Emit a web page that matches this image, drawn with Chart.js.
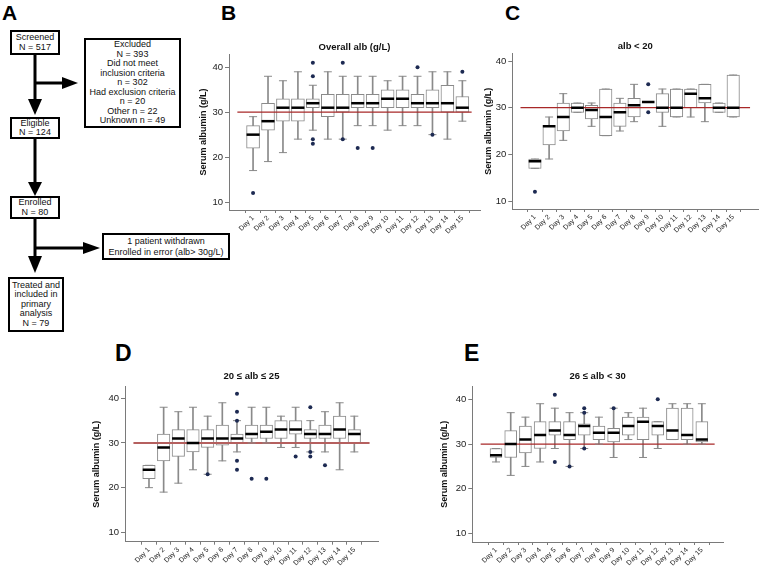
<!DOCTYPE html>
<html><head><meta charset="utf-8">
<script src="https://cdn.jsdelivr.net/npm/chart.js@4.4.1/dist/chart.umd.min.js"></script>
<style>
html,body{margin:0;padding:0;background:#fff;width:767px;height:572px;overflow:hidden;font-family:"Liberation Sans",Arial,Helvetica,sans-serif;}
.box{position:absolute;border:2px solid #000;box-sizing:border-box;display:flex;flex-direction:column;justify-content:center;align-items:center;text-align:center;font-size:9px;line-height:9.5px;color:#111;background:#fff;white-space:nowrap;}
.letter{position:absolute;font-weight:bold;font-size:21px;line-height:1;color:#000;}
canvas{position:absolute;}
svg{position:absolute;left:0;top:0;}
</style></head><body>

<div class="letter" style="left:2px;top:2px;">A</div>
<div class="letter" style="left:221px;top:2px;">B</div>
<div class="letter" style="left:505px;top:2px;">C</div>
<div class="letter" style="left:115px;top:342px;font-size:23px;">D</div>
<div class="letter" style="left:464px;top:342px;font-size:23px;">E</div>

<svg width="240" height="340">
  <g stroke="#000" stroke-width="3" fill="none">
    <line x1="35" y1="55" x2="35" y2="100"/>
    <line x1="35" y1="83" x2="63" y2="83"/>
    <line x1="35" y1="139" x2="35" y2="183"/>
    <line x1="35" y1="219" x2="35" y2="257"/>
    <line x1="35" y1="248" x2="84" y2="248"/>
  </g>
  <g fill="#000">
    <polygon points="28,99 42,99 35,115"/>
    <polygon points="62,77 62,89 78,83"/>
    <polygon points="28,182 42,182 35,196"/>
    <polygon points="28,256 42,256 35,273"/>
    <polygon points="83,242 83,254 100,248"/>
  </g>
</svg>

<div class="box" style="left:10px;top:30px;width:50px;height:25px;"><div>Screened</div><div>N = 517</div></div>
<div class="box" style="left:84px;top:38px;width:97px;height:90px;">
  <div>Excluded</div><div>N = 393</div><div>Did not meet</div><div>inclusion criteria</div><div>n = 302</div><div>Had exclusion criteria</div><div>n = 20</div><div>Other n = 22</div><div>Unknown n = 49</div>
</div>
<div class="box" style="left:10px;top:117px;width:50px;height:22px;"><div>Eligible</div><div>N = 124</div></div>
<div class="box" style="left:10px;top:196px;width:50px;height:23px;"><div>Enrolled</div><div>N = 80</div></div>
<div class="box" style="left:102px;top:233px;width:128px;height:27px;line-height:10.5px;"><div>1 patient withdrawn</div><div>Enrolled in error (alb&gt; 30g/L)</div></div>
<div class="box" style="left:8px;top:277px;width:56px;height:55px;"><div>Treated and</div><div>included in</div><div>primary</div><div>analysis</div><div>N = 79</div></div>

<canvas id="cB" width="294" height="240" style="left:196px;top:30px;"></canvas>
<canvas id="cC" width="286" height="240" style="left:481px;top:30px;"></canvas>
<canvas id="cD" width="300" height="212" style="left:89px;top:360px;"></canvas>
<canvas id="cE" width="300" height="212" style="left:437px;top:360px;"></canvas>

<script>
// ---------- data ----------
const dayNumbers = [1,2,3,4,5,6,7,8,9,10,11,12,13,14,15];
const dayLabels = dayNumbers.map(n => 'Day ' + n);
const yTickValues = [10,20,30,40];
const refValue = 30;

// B: Overall alb (g/L)
const bLow  = [17,19,21,24,26,24,24,27,27,26,27,27,25,24,28];
const bQ1   = [22,26,28,28,31,29,30,31,31,31,31,31,31,30,30];
const bMed  = [25,28,31,31,32,31,31,32,32,33,33,32,32,32,31];
const bQ3   = [27,32,33,33,33,34,34,34,34,35,35,34,35,36,33.5];
const bHigh = [29,38,37,39,36,39,38,38,38,37,38,38,39,39,37];
const bOutDay = [1,5,5,5,5,7,7,8,9,12,13,15];
const bOutVal = [12,41,38,24,23,41,24,22,22,40,25,39];

// C: alb < 20
const cLow  = [17,19,23,29,26,24,25,27,31.2,26,28,28,27,29,28];
const cQ1   = [17,22,25,29,27.6,24,26,28,31.2,29,28,30,31,29,28];
const cMed  = [18.5,26,28,30,29.5,28,29,30.5,31.2,30,30,33,32,30,30];
const cQ3   = [19,26.2,31,31,30.5,34,31,32,31.2,33,34,34,35,31,37];
const cHigh = [19,28,33,31,31,34,32,35,31.2,34,34,34,35,31,37];
const cOutDay = [1,9,9];
const cOutVal = [12,35,29];

// D: 20 <= alb <= 25
const dLow  = [20,19,21,24,23,26,28,30,30,29,29,28,28,24,28];
const dQ1   = [22,26,27,28,29,29.5,30,31,31,31,32,31,31,31,30];
const dMed  = [24,29,31,30,31,31,31,32,32.5,33,33,32,32,33,32];
const dQ3   = [25,32,33,33,33,34,32,34,34,35,35,33,34,36,33];
const dHigh = [25,38,37,38,36,39,35,38,38,36,38,35,37,39,36];
const dOutDay = [5,7,7,7,7,7,8,9,11,12,12,12,13];
const dOutVal = [23,41,37,35,26,24,22,22,27,38,28,27,25];

// E: 26 <= alb < 30
const eLow  = [26,23,25,26,29,25,29,30,27,31,27,29,31,30,30];
const eQ1   = [27,27,28,29,32,31,32,31,30.5,32,31,32,31,31,30.5];
const eMed  = [27.5,30,31,32,33,32,34,32.5,32.5,34,35,34,33,32,31];
const eQ3   = [29,33,34,35,35,35,34.5,34,33.5,36,36,35,38,38,35];
const eHigh = [29,37,36,39,38,37,37,36,38,37,38,35,39,39,39];
const eOutDay = [5,5,6,7,7,7,9,12];
const eOutVal = [41,26,25,38,37,29,38,40];

// ---------- drawing ----------
const FONT = '"Liberation Sans", Arial, Helvetica, sans-serif';
Chart.defaults.font.family = FONT;
const GREY = '#8a8a8a';
const AXIS = '#7a7a7a';

const titlePlugin = {
  id: 'panelTitle',
  afterDraw(chart, args, opts) {
    const ca = chart.chartArea, ctx = chart.ctx;
    ctx.save();
    ctx.font = 'bold 9.5px ' + FONT;
    ctx.fillStyle = '#111';
    ctx.textAlign = 'center';
    ctx.textBaseline = 'middle';
    ctx.fillText(opts.text, (ca.left + ca.right) / 2, ca.top - opts.gap);
    ctx.restore();
  }
};

function buildPanel(id, low, q1, med, q3, high, outDay, outVal, L) {
  const pts = (arr) => dayNumbers.map((x, i) => ({x, y: arr[i]}));
  const datasets = [
    { type: 'bar', data: dayNumbers.map((x, i) => ({x, y: [low[i], high[i]]})),
      backgroundColor: GREY, borderWidth: 0, barThickness: 1, grouped: false, order: 6 },
    { type: 'bar', data: dayNumbers.map((x, i) => ({x, y: [q1[i], q3[i]]})),
      backgroundColor: '#ffffff', borderColor: GREY, borderWidth: 1, borderSkipped: false,
      barThickness: L.boxW, grouped: false, order: 5 },
    { type: 'line', data: [{x: L.xmin, y: refValue}, {x: L.xmax, y: refValue}],
      borderColor: L.refColor, borderWidth: L.refW, pointRadius: 0, fill: false, order: 4 },
    { type: 'scatter', data: pts(low).concat(pts(high)),
      pointStyle: 'line', pointRadius: 4, pointBorderColor: GREY, pointBorderWidth: 1, order: 3 },
    { type: 'scatter', data: pts(med),
      pointStyle: 'line', pointRadius: L.boxW / 2, pointBorderColor: '#000', pointBorderWidth: 2.5, order: 2 },
    { type: 'scatter', data: outDay.map((x, i) => ({x, y: outVal[i]})),
      pointStyle: 'circle', pointRadius: 2, pointBackgroundColor: '#1d2a52', pointBorderWidth: 0, order: 1 }
  ];
  return new Chart(document.getElementById(id), {
    type: 'bar',
    data: { datasets },
    plugins: [titlePlugin],
    options: {
      responsive: false, animation: false, events: [],
      layout: { padding: { top: L.padTop, right: L.padRight, left: 0, bottom: 0 } },
      plugins: { legend: { display: false }, tooltip: { enabled: false },
                 panelTitle: { text: L.title, gap: L.titleGap } },
      scales: {
        x: {
          type: 'linear', min: L.xmin, max: L.xmax,
          afterBuildTicks: s => { s.ticks = dayNumbers.map(v => ({ value: v })); },
          afterFit: s => { s.height = L.xh; },
          ticks: { autoSkip: false, minRotation: 45, maxRotation: 45, padding: 1,
                   font: { size: 7 }, color: '#222',
                   callback: (v) => dayLabels[dayNumbers.indexOf(v)] },
          grid: { drawOnChartArea: false, drawTicks: true, tickLength: 3, color: AXIS },
          border: { display: true, color: AXIS, width: 1 }
        },
        y: {
          type: 'linear', min: L.ymin, max: L.ymax,
          afterBuildTicks: s => { s.ticks = yTickValues.map(v => ({ value: v })); },
          afterFit: s => { s.width = L.yw; },
          ticks: { padding: 2, font: { size: 9.5 }, color: '#222', callback: v => String(v) },
          grid: { drawOnChartArea: false, drawTicks: true, tickLength: 4, color: AXIS },
          border: { display: true, color: AXIS, width: 1 },
          title: { display: true, text: 'Serum albumin (g/L)', color: '#111',
                   font: { size: 9, weight: 'bold' }, padding: { top: 2, bottom: 0 } }
        }
      }
    }
  });
}

buildPanel('cB', bLow, bQ1, bMed, bQ3, bHigh, bOutDay, bOutVal,
  { title: 'Overall alb (g/L)', titleGap: 7, xmin: -0.05, xmax: 15.62, ymin: 8.22, ymax: 42.96,
    padTop: 24, padRight: 10, xh: 60, yw: 33, boxW: 13, refColor: '#a82828', refW: 1.2 });
buildPanel('cC', cLow, cQ1, cMed, cQ3, cHigh, cOutDay, cOutVal,
  { title: 'alb < 20', titleGap: 6.6, xmin: -0.02, xmax: 16.19, ymin: 8.29, ymax: 41.65,
    padTop: 23.3, padRight: 0, xh: 61, yw: 31.3, boxW: 12.5, refColor: '#a82828', refW: 1.2 });
buildPanel('cD', dLow, dQ1, dMed, dQ3, dHigh, dOutDay, dOutVal,
  { title: '20 ≤ alb ≤ 25', titleGap: 10.7, xmin: -0.06, xmax: 16.04, ymin: 7.9, ymax: 42.6,
    padTop: 26.7, padRight: 11, xh: 30.3, yw: 36, boxW: 12.5, refColor: '#b5605f', refW: 2.2 });
buildPanel('cE', eLow, eQ1, eMed, eQ3, eHigh, eOutDay, eOutVal,
  { title: '26 ≤ alb < 30', titleGap: 10.7, xmin: -0.045, xmax: 15.87, ymin: 8.13, ymax: 42.8,
    padTop: 26.7, padRight: 14, xh: 30, yw: 35.3, boxW: 12, refColor: '#a82828', refW: 1.2 });
</script>
</body></html>
